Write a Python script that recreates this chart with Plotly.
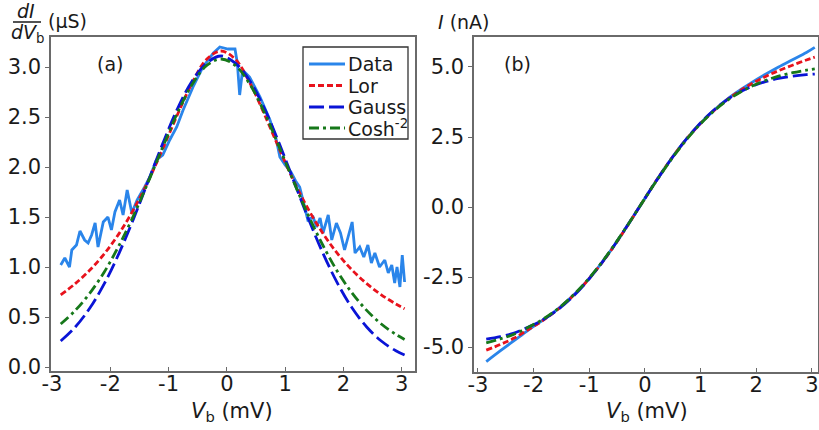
import plotly.graph_objects as go

# ---------------- data ----------------
VB_FIT = [-2.85, -2.6, -2.35, -2.1, -1.85, -1.6, -1.35, -1.1, -0.85, -0.6, -0.35, -0.1,
          0.15, 0.4, 0.65, 0.9, 1.15, 1.4, 1.65, 1.9, 2.15, 2.4, 2.65, 2.9, 3.05]

G_LOR = [0.722, 0.834, 0.969, 1.134, 1.334, 1.575, 1.859, 2.181, 2.52, 2.835, 3.075, 3.16,
         3.075, 2.835, 2.52, 2.181, 1.859, 1.575, 1.334, 1.134, 0.969, 0.834, 0.722, 0.63, 0.582]
G_GAUSS = [0.26, 0.40, 0.59, 0.836, 1.137, 1.483, 1.858, 2.234, 2.578, 2.856, 3.037, 3.11,
           3.037, 2.856, 2.578, 2.234, 1.858, 1.483, 1.137, 0.836, 0.59, 0.40, 0.26, 0.162, 0.12]
G_COSH = [0.43, 0.566, 0.739, 0.953, 1.215, 1.514, 1.849, 2.199, 2.538, 2.822, 3.013, 3.08,
          3.013, 2.822, 2.538, 2.199, 1.849, 1.514, 1.215, 0.953, 0.739, 0.566, 0.43, 0.326, 0.275]

VB_DATA = [-2.85, -2.78, -2.70, -2.66, -2.58, -2.52, -2.44, -2.38, -2.32, -2.26, -2.21, -2.12,
           -2.04, -1.98, -1.92, -1.84, -1.78, -1.71, -1.63, -1.54, -1.41, -1.32, -1.21, -1.10,
           -0.98, -0.86, -0.75, -0.58, -0.41, -0.23, -0.12, 0.02, 0.14, 0.18, 0.22, 0.27, 0.39,
           0.57, 0.74, 0.85, 0.91, 1.00, 1.10, 1.18, 1.25, 1.34, 1.39, 1.48, 1.54, 1.60, 1.65,
           1.74, 1.80, 1.88, 1.95, 2.02, 2.08, 2.15, 2.20, 2.28, 2.35, 2.42, 2.48, 2.54, 2.62,
           2.71, 2.77, 2.83, 2.88, 2.92, 2.97, 3.01, 3.05]
G_DATA = [1.02, 1.09, 1.00, 1.17, 1.22, 1.36, 1.27, 1.24, 1.32, 1.44, 1.20, 1.45,
          1.50, 1.37, 1.55, 1.67, 1.52, 1.77, 1.54, 1.67, 1.80, 1.90, 2.07, 2.12,
          2.27, 2.40, 2.57, 2.80, 3.00, 3.14, 3.20, 3.18, 3.18, 3.04, 2.72, 2.97, 2.90,
          2.70, 2.47, 2.27, 2.10, 2.02, 1.95, 1.86, 1.80, 1.60, 1.47, 1.50, 1.40, 1.49, 1.34,
          1.52, 1.27, 1.44, 1.34, 1.17, 1.30, 1.45, 1.14, 1.20, 1.10, 1.22, 1.04, 1.14, 1.00,
          1.07, 0.94, 1.02, 0.84, 1.00, 0.80, 1.12, 0.85]

I_DATA = [-5.52, -5.14, -4.77, -4.40, -4.06, -3.70, -3.27, -2.77, -2.18, -1.51, -0.77, 0.0,
          0.78, 1.52, 2.19, 2.78, 3.29, 3.73, 4.10, 4.42, 4.72, 5.00, 5.26, 5.52, 5.70]
I_LOR = [-5.11, -4.91, -4.68, -4.381, -4.074, -3.711, -3.282, -2.778, -2.191, -1.520, -0.780, 0.0,
         0.780, 1.520, 2.191, 2.778, 3.282, 3.711, 4.074, 4.381, 4.644, 4.869, 5.062, 5.25, 5.35]
I_GAUSS = [-4.72, -4.63, -4.50, -4.290, -4.048, -3.721, -3.303, -2.791, -2.189, -1.510, -0.770, 0.0,
           0.770, 1.510, 2.189, 2.791, 3.303, 3.721, 4.048, 4.290, 4.470, 4.592, 4.673, 4.727, 4.748]
I_COSH = [-4.85, -4.71, -4.54, -4.297, -4.028, -3.688, -3.267, -2.762, -2.168, -1.497, -0.765, 0.0,
          0.765, 1.497, 2.168, 2.762, 3.267, 3.688, 4.028, 4.297, 4.508, 4.670, 4.794, 4.888, 4.933]

X_TICKS = [-3, -2, -1, 0, 1, 2, 3]
X_TICKTEXT = ["-3", "-2", "-1", "0", "1", "2", "3"]
YA_TICKS = [0.0, 0.5, 1.0, 1.5, 2.0, 2.5, 3.0]
YA_TICKTEXT = ["0.0", "0.5", "1.0", "1.5", "2.0", "2.5", "3.0"]
YB_TICKS = [-5.0, -2.5, 0.0, 2.5, 5.0]
YB_TICKTEXT = ["-5.0", "-2.5", "0.0", "2.5", "5.0"]

LEGEND_NAMES = ["Data", "Lor", "Gauss", "Cosh<sup>-2</sup>"]

# ---------------- styles ----------------
W, H = 819, 430
FONT = "DejaVu Sans"
C_DATA = "#2a85ea"
C_LOR = "#e8121c"
C_GAUSS = "#0a14d6"
C_COSH = "#16781a"
COLORS = [C_DATA, C_LOR, C_GAUSS, C_COSH]
DASHES = ["solid", "6px,3px", "15px,5px", "10px,4px,3px,4px"]
LW = 2.8


def px_x(p):
    return p / W


def px_y(p):
    return 1 - p / H


fig = go.Figure()


def add_set(xref, yref, xd, yd, yl, yg, yc, data_shape):
    series = [(xd, yd, data_shape), (VB_FIT, yl, "spline"),
              (VB_FIT, yg, "spline"), (VB_FIT, yc, "spline")]
    for (xs, ys, shp), name, col, dsh in zip(series, LEGEND_NAMES, COLORS, DASHES):
        fig.add_trace(go.Scatter(x=xs, y=ys, mode="lines", name=name,
                                 line=dict(color=col, width=LW, dash=dsh, shape=shp),
                                 xaxis=xref, yaxis=yref, showlegend=False))


add_set("x", "y", VB_DATA, G_DATA, G_LOR, G_GAUSS, G_COSH, "linear")
add_set("x2", "y2", VB_FIT, I_DATA, I_LOR, I_GAUSS, I_COSH, "spline")

axis_common = dict(showline=True, mirror=True, linecolor="#6a6a6a", linewidth=1.5,
                   showgrid=False, zeroline=False, ticklen=4, tickcolor="#6a6a6a",
                   automargin=False,
                   tickfont=dict(family=FONT, size=21, color="#1a1a1a"))

fig.update_layout(
    width=W, height=H,
    margin=dict(l=0, r=0, t=0, b=0, pad=0),
    paper_bgcolor="white", plot_bgcolor="white",
    font=dict(family=FONT, color="#1a1a1a"),
    xaxis=dict(domain=[px_x(51), px_x(414.5)], range=[-3.017, 3.22], anchor="y",
               tickvals=X_TICKS, ticktext=X_TICKTEXT, ticks="inside",
               ticklabelstandoff=-7, **axis_common),
    yaxis=dict(domain=[px_y(371), px_y(37)], range=[-0.04, 3.30], anchor="x",
               tickvals=YA_TICKS, ticktext=YA_TICKTEXT, ticks="outside", **axis_common),
    xaxis2=dict(domain=[px_x(474), px_x(818)], range=[-3.07, 3.108], anchor="y2",
                tickvals=X_TICKS, ticktext=X_TICKTEXT, ticks="inside",
                ticklabelstandoff=-7, **axis_common),
    yaxis2=dict(domain=[px_y(372), px_y(37)], range=[-5.89, 6.07], anchor="x2",
                tickvals=YB_TICKS, ticktext=YB_TICKTEXT, ticks="outside", **axis_common),
    showlegend=False,
)

ann_font = dict(family=FONT, size=19, color="#1a1a1a")
annotations = [
    dict(text="(a)", x=px_x(110), y=px_y(64)),
    dict(text="(b)", x=px_x(517), y=px_y(64)),
    dict(text="<i>V</i><sub>b</sub> (mV)", x=px_x(232), y=px_y(412),
         font=dict(family=FONT, size=21, color="#1a1a1a")),
    dict(text="<i>V</i><sub>b</sub> (mV)", x=px_x(647), y=px_y(412),
         font=dict(family=FONT, size=21, color="#1a1a1a")),
    dict(text="<i>dI</i>", x=px_x(26), y=px_y(11)),
    dict(text="<i>dV</i><sub>b</sub>", x=px_x(28), y=px_y(34)),
    dict(text="(µS)", x=px_x(46), y=px_y(21), xanchor="left"),
    dict(text="<i>I</i> (nA)", x=px_x(436), y=px_y(22), xanchor="left"),
]
for a in annotations:
    a.setdefault("xanchor", "center")
    a.setdefault("font", ann_font)
    fig.add_annotation(xref="paper", yref="paper", showarrow=False, yanchor="middle", **a)

fig.add_shape(type="line", xref="paper", yref="paper",
              x0=px_x(13), x1=px_x(41), y0=px_y(22), y1=px_y(22),
              line=dict(color="#1a1a1a", width=1.5))

# legend box (panel a)
fig.add_shape(type="rect", xref="paper", yref="paper",
              x0=px_x(303), x1=px_x(408), y0=px_y(139), y1=px_y(47),
              line=dict(color="#333333", width=1.3), fillcolor="white", layer="above")
row_y = [64, 85.5, 107, 128]
for name, col, dsh, ry in zip(LEGEND_NAMES, COLORS, DASHES, row_y):
    fig.add_shape(type="line", xref="paper", yref="paper",
                  x0=px_x(309), x1=px_x(345), y0=px_y(ry), y1=px_y(ry),
                  line=dict(color=col, width=LW, dash=dsh), layer="above")
    fig.add_annotation(xref="paper", yref="paper", showarrow=False,
                       x=px_x(346), y=px_y(ry), xanchor="left", yanchor="middle",
                       text=name, font=dict(family=FONT, size=19, color="#1a1a1a"))

fig.write_html("out.html", config={"displayModeBar": False},
               post_script="document.body.style.margin='0';document.body.style.padding='0';")
